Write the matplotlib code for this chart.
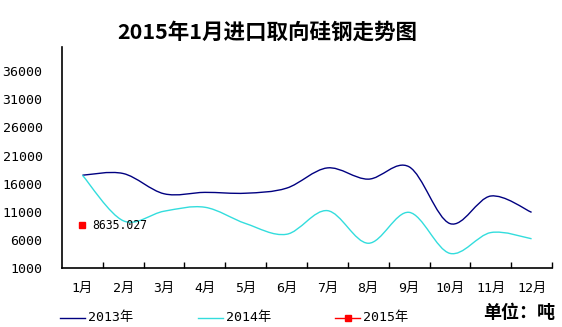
import matplotlib.pyplot as plt
from matplotlib.path import Path
from matplotlib.patches import PathPatch
from matplotlib.lines import Line2D
import numpy as np

plt.rcParams['font.family'] = ['DejaVu Sans Mono', 'Noto Sans CJK SC']
CJK = ['Noto Sans CJK SC', 'DejaVu Sans']

months = ['1月', '2月', '3月', '4月', '5月', '6月', '7月', '8月', '9月', '10月', '11月', '12月']
y2013 = [17500, 17800, 14200, 14450, 14300, 15200, 18800, 16800, 19000, 8900, 13800, 10900]
y2014 = [17500, 9400, 11100, 11800, 8900, 7000, 11200, 5400, 10900, 3600, 7300, 6200]
y2015 = [8635.027]
yticks = [1000, 6000, 11000, 16000, 21000, 26000, 31000, 36000]


def smooth_path(xs, ys):
    # cubic Bezier through every point, control points from neighbours
    pts = np.column_stack([xs, ys]).astype(float)
    ext = np.vstack([pts[0], pts, pts[-1]])
    verts = [pts[0]]
    codes = [Path.MOVETO]
    for i in range(len(pts) - 1):
        p0, p1, p2, p3 = ext[i], ext[i + 1], ext[i + 2], ext[i + 3]
        verts += [p1 + (p2 - p0) / 6, p2 - (p3 - p1) / 6, p2]
        codes += [Path.CURVE4] * 3
    return Path(verts, codes)


fig = plt.figure(figsize=(5.62, 3.27), dpi=100)
ax = fig.add_axes([62 / 562, (327 - 268) / 327, 490 / 562, 221 / 327])

x = np.arange(len(months))
ax.add_patch(PathPatch(smooth_path(x, y2013), fill=False, edgecolor='#000080', lw=1.0))
ax.add_patch(PathPatch(smooth_path(x, y2014), fill=False, edgecolor='#33dddd', lw=1.0))
ax.plot(x[:len(y2015)], y2015, 's', color='#ff0000', ms=4.5)
ax.text(x[0] + 0.24, y2015[0], '%.3f' % y2015[0], fontsize=8.3, va='center', ha='left')

ax.set_xlim(-0.5, 11.5)
ax.set_ylim(1000, 40300)
ax.set_yticks(yticks)
ax.set_yticklabels([str(v) for v in yticks], fontsize=9.5)
ax.tick_params(axis='y', length=0, pad=14)
ax.set_xticks(x)
ax.set_xticklabels(months, fontsize=9.5)
ax.tick_params(axis='x', length=0, pad=10)
ax.set_xticks(np.arange(0.5, 12, 1), minor=True)
ax.tick_params(axis='x', which='minor', direction='in', length=4, width=1, color='black')
for s in ['top', 'right']:
    ax.spines[s].set_visible(False)
for s in ['left', 'bottom']:
    ax.spines[s].set_linewidth(1.2)

fig.text(267 / 562, 1 - 32 / 327, '2015年1月进口取向硅钢走势图', fontsize=15.5,
         fontweight='bold', ha='center', va='center', family=CJK)

# legend row along the bottom
ly = 1 - 318 / 327
items = [(60, 85, '#000080', None, '2013年'),
         (198, 223, '#33dddd', None, '2014年'),
         (335, 360, '#ff0000', 's', '2015年')]
for x0, x1, c, m, label in items:
    fig.add_artist(Line2D([x0 / 562, x1 / 562], [ly, ly], color=c, lw=1.0,
                          transform=fig.transFigure))
    if m:
        fig.add_artist(Line2D([(x0 + x1) / 2 / 562], [ly], color=c, marker=m, ms=4,
                              transform=fig.transFigure))
    fig.text((x1 + 3) / 562, ly, label, fontsize=9.5, ha='left', va='center')

fig.text(555 / 562, 1 - 312 / 327, '单位：吨', fontsize=13, fontweight='bold',
         ha='right', va='center', family=CJK)

fig.savefig('out.png', dpi=100)
